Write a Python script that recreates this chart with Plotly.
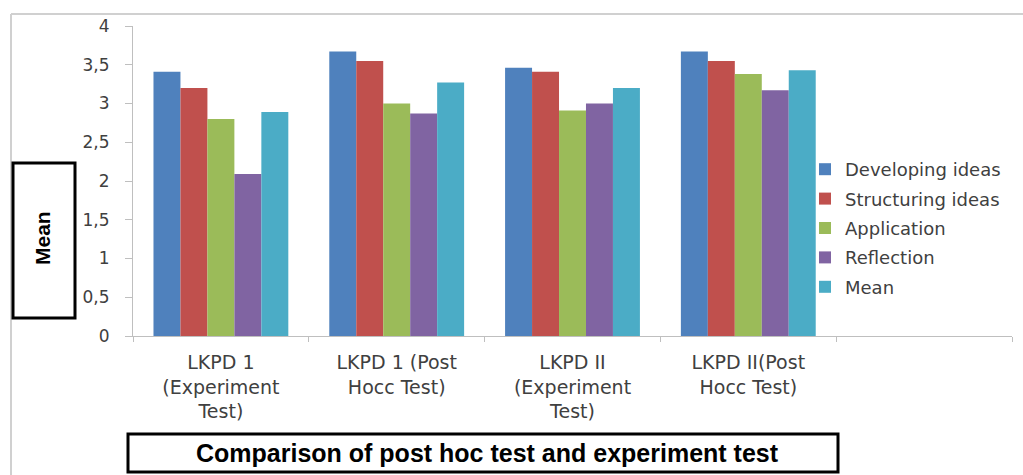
import plotly.graph_objects as go

categories = ["LKPD 1<br>(Experiment<br>Test)", "LKPD 1 (Post<br>Hocc Test)",
              "LKPD II<br>(Experiment<br>Test)", "LKPD II(Post<br>Hocc Test)"]
empty_category = " "
series_names = ["Developing ideas", "Structuring ideas", "Application", "Reflection", "Mean"]
developing = [3.41, 3.67, 3.46, 3.67]
structuring = [3.20, 3.55, 3.41, 3.55]
application = [2.80, 3.00, 2.91, 3.38]
reflection = [2.09, 2.87, 3.00, 3.17]
mean_vals = [2.89, 3.27, 3.20, 3.43]
y_ticks = [0, 0.5, 1, 1.5, 2, 2.5, 3, 3.5, 4]
colors = ["#4F81BD", "#C0504D", "#9BBB59", "#8064A2", "#4BACC6"]

W, H = 1023, 475
ML, MR, MT, MB = 133, 11, 26, 139
PW, PH = W - ML - MR, H - MT - MB


def px(x):
    return (x - ML) / PW


def py(y):
    return (H - MB - y) / PH


fig = go.Figure()
for i, (name, vals) in enumerate(zip(series_names,
                                     [developing, structuring, application, reflection, mean_vals])):
    fig.add_trace(go.Bar(name=name, x=categories, y=vals, marker_color=colors[i],
                         marker_line_width=0, legendgroup=name))

axis_grey = "#BFBFBF"
text_grey = "#404040"

fig.update_layout(
    width=W, height=H,
    margin=dict(l=ML, r=MR, t=MT, b=MB, autoexpand=False),
    paper_bgcolor="white", plot_bgcolor="white",
    separators=",.",
    barmode="group", bargap=0.233, bargroupgap=0,
    showlegend=True,
    legend=dict(x=px(805), y=py(151), xanchor="left", yanchor="top",
                font=dict(family="DejaVu Sans", size=18, color=text_grey),
                tracegroupgap=3, traceorder="grouped", bgcolor="rgba(0,0,0,0)"),
    xaxis=dict(type="category", categoryorder="array",
               categoryarray=categories + [empty_category],
               range=[-0.5, 4.5], tickson="boundaries",
               ticks="outside", ticklen=5, tickcolor=axis_grey,
               showline=True, linecolor=axis_grey, linewidth=1,
               showgrid=False, zeroline=False, ticklabelstandoff=9,
               tickfont=dict(family="DejaVu Sans", size=19, color=text_grey)),
    yaxis=dict(range=[0, 4], tickvals=y_ticks, ticks="outside", ticklen=7,
               tickcolor=axis_grey, showline=True, linecolor=axis_grey, linewidth=1,
               showgrid=False, zeroline=False, ticklabelstandoff=12,
               tickfont=dict(family="DejaVu Sans", size=17, color=text_grey)),
    shapes=[
        dict(type="line", xref="paper", yref="paper", x0=px(11), x1=px(1023), y0=py(14), y1=py(14),
             line=dict(color="#D0D0D0", width=2)),
        dict(type="line", xref="paper", yref="paper", x0=px(11), x1=px(11), y0=py(14), y1=py(475),
             line=dict(color="#D0D0D0", width=2)),
        dict(type="rect", xref="paper", yref="paper", x0=px(13), x1=px(75), y0=py(318), y1=py(163),
             line=dict(color="black", width=3), fillcolor="white"),
        dict(type="rect", xref="paper", yref="paper", x0=px(128), x1=px(838), y0=py(472), y1=py(434),
             line=dict(color="black", width=3), fillcolor="white"),
    ],
    annotations=[
        dict(text="<b>Mean</b>", xref="paper", yref="paper", x=px(42), y=py(238),
             showarrow=False, textangle=-90, xanchor="center", yanchor="middle",
             font=dict(family="Liberation Sans Narrow, Liberation Sans", size=21, color="black")),
        dict(text="<b>Comparison of post hoc test and experiment test</b>", xref="paper", yref="paper",
             x=px(487), y=py(453), showarrow=False, xanchor="center", yanchor="middle",
             font=dict(family="Liberation Sans, Arial", size=25, color="black")),
    ],
)

fig.write_html("out.html", config={"displayModeBar": False},
               post_script="document.body.style.margin='0px';document.body.style.overflow='hidden';")
